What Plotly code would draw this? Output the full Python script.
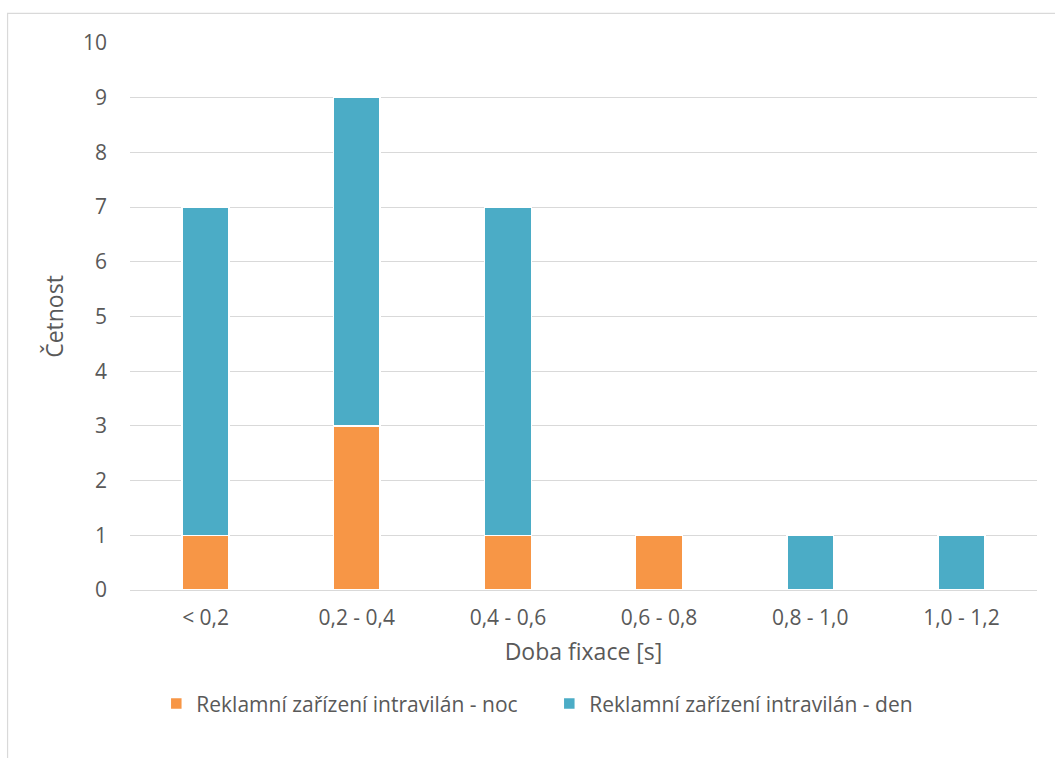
import plotly.graph_objects as go

categories = ["< 0,2", "0,2 - 0,4", "0,4 - 0,6", "0,6 - 0,8", "0,8 - 1,0", "1,0 - 1,2"]
noc_values = [1, 3, 1, 1, 0, 0]
den_values = [6, 6, 6, 0, 1, 1]
noc_name = "Reklamní zařízení intravilán - noc"
den_name = "Reklamní zařízení intravilán - den"

FONT = "Open Sans"
TXT = "#595959"

fig = go.Figure()
fig.add_trace(go.Bar(x=categories, y=noc_values, name=noc_name,
                     marker=dict(color="#F79646", line=dict(color="white", width=1.5))))
fig.add_trace(go.Bar(x=categories, y=den_values, name=den_name,
                     marker=dict(color="#4BACC6", line=dict(color="white", width=1.5))))

fig.update_layout(
    width=1055, height=758,
    barmode="stack", bargap=0.69,
    margin=dict(l=130, r=18, t=43, b=168),
    paper_bgcolor="white", plot_bgcolor="white",
    font=dict(family=FONT, color=TXT, size=21),
    xaxis=dict(
        title=dict(text="Doba fixace [s]", font=dict(size=23, color=TXT), standoff=13),
        showline=True, linecolor="#D9D9D9", linewidth=1,
        ticks="", tickfont=dict(size=21, color=TXT), showgrid=False,
        ticklabelstandoff=9,
    ),
    yaxis=dict(
        title=dict(text="Četnost", font=dict(size=23, color=TXT), standoff=12),
        range=[0, 10], dtick=1, tickfont=dict(size=21, color=TXT),
        showgrid=True, gridcolor="#D9D9D9", gridwidth=1,
        zeroline=False, showline=False, ticks="", ticklen=0,
        ticklabelstandoff=22,
    ),
    legend=dict(orientation="h", x=0.029, xanchor="left", y=-0.208, yanchor="middle",
                font=dict(size=21, color=TXT), itemwidth=30, traceorder="normal",
                entrywidth=348),
    shapes=[dict(type="rect", xref="paper", yref="paper",
                 x0=-0.135, x1=1.03, y0=-0.32, y1=1.054,
                 line=dict(color="#D9D9D9", width=1.2), fillcolor="rgba(0,0,0,0)", layer="below")],
)

fig.write_html("out.html", config={"displayModeBar": False},
               post_script="document.body.style.margin='0px';")
